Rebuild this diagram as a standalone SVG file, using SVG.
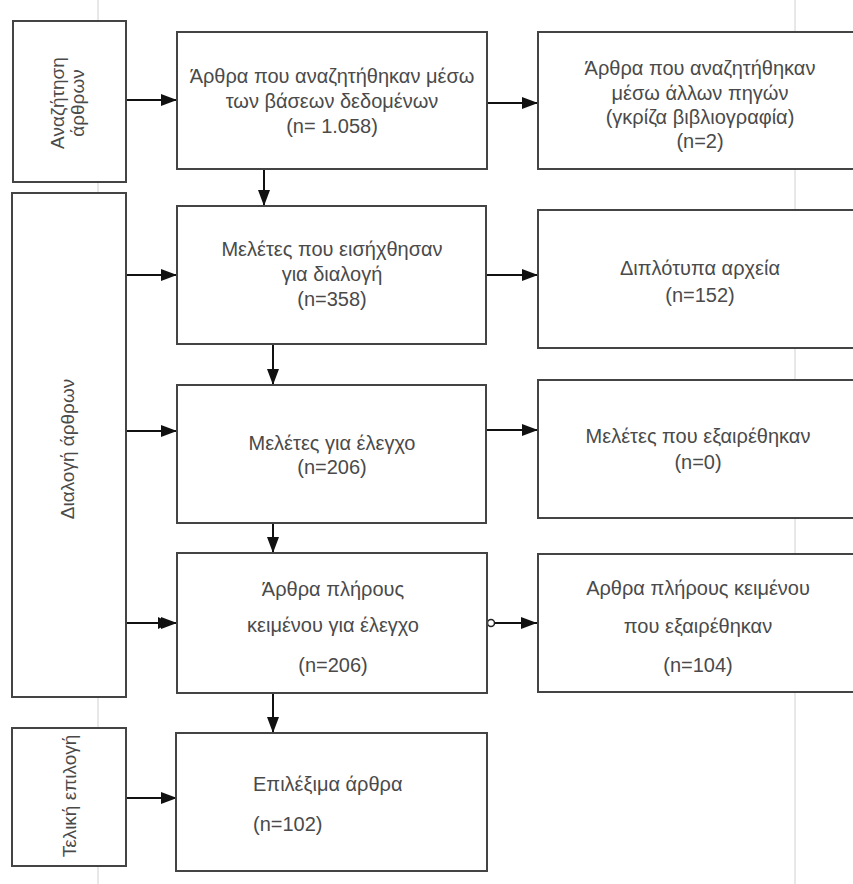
<svg xmlns="http://www.w3.org/2000/svg" width="853" height="884" viewBox="0 0 853 884">
<style>
.box{fill:#fff;stroke:#444;stroke-width:2}
.t{font-family:"Liberation Sans",Arial,sans-serif;font-size:20px;fill:#4a4a4a;text-anchor:middle}
.tr{font-family:"Liberation Sans",Arial,sans-serif;font-size:19px;fill:#4a4a4a;text-anchor:middle}
.tl{font-family:"Liberation Sans",Arial,sans-serif;font-size:20px;fill:#4a4a4a}
.c{stroke:#111;stroke-width:2;fill:none}
.bg{stroke:#d0d0d0;stroke-width:1}
</style>
<defs>
<marker id="arr" markerUnits="userSpaceOnUse" markerWidth="16" markerHeight="12" refX="16" refY="6" orient="auto">
<path d="M0,0 L16,6 L0,12 z" fill="#111"/>
</marker>
</defs>
<rect width="853" height="884" fill="#fff"/>
<g id="background">
<line class="bg" x1="98" y1="0" x2="98" y2="884"/>
<line class="bg" x1="795" y1="0" x2="795" y2="884"/>
</g>
<g id="connectors">
<line class="c" x1="126" y1="100" x2="177" y2="100" marker-end="url(#arr)"/>
<line class="c" x1="487" y1="103" x2="538" y2="103" marker-end="url(#arr)"/>
<line class="c" x1="264" y1="169" x2="264" y2="206" marker-end="url(#arr)"/>
<line class="c" x1="126" y1="275" x2="177" y2="275" marker-end="url(#arr)"/>
<line class="c" x1="486" y1="275" x2="538" y2="275" marker-end="url(#arr)"/>
<line class="c" x1="273" y1="344" x2="273" y2="385" marker-end="url(#arr)"/>
<line class="c" x1="126" y1="431" x2="177" y2="431" marker-end="url(#arr)"/>
<line class="c" x1="486" y1="430" x2="538" y2="430" marker-end="url(#arr)"/>
<line class="c" x1="273" y1="523" x2="273" y2="553" marker-end="url(#arr)"/>
<line class="c" x1="126" y1="623" x2="177" y2="623" marker-end="url(#arr)"/>
<path d="M158,617 L170,623 L158,629 z" fill="#111"/>
<circle cx="491" cy="623" r="3.5" fill="#fff" stroke="#222" stroke-width="1.5"/>
<line class="c" x1="495" y1="623" x2="537" y2="623" marker-end="url(#arr)"/>
<line class="c" x1="273" y1="693" x2="273" y2="733" marker-end="url(#arr)"/>
<line class="c" x1="126" y1="798" x2="177" y2="798" marker-end="url(#arr)"/>
</g>
<g id="L1">
<rect class="box" x="13" y="21" width="113" height="161"/>
<text class="tr" transform="translate(64,103) rotate(-90)">Αναζήτηση</text>
<text class="tr" transform="translate(84,103) rotate(-90)">άρθρων</text>
</g>
<g id="L2">
<rect class="box" x="12" y="193" width="114" height="504"/>
<text class="tr" transform="translate(74,449) rotate(-90)">Διαλογή άρθρων</text>
</g>
<g id="L3">
<rect class="box" x="12" y="728" width="114" height="138"/>
<text class="tr" transform="translate(76,796) rotate(-90)">Τελική επιλογή</text>
</g>
<g id="M1">
<rect class="box" x="177" y="32" width="310" height="137"/>
<text class="t" x="332" y="83">Άρθρα που αναζητήθηκαν μέσω</text>
<text class="t" x="332" y="108">των βάσεων δεδομένων</text>
<text class="t" x="332" y="133">(n= 1.058)</text>
</g>
<g id="R1">
<rect class="box" x="538" y="32" width="330" height="137"/>
<text class="t" x="700" y="75">Άρθρα που αναζητήθηκαν</text>
<text class="t" x="700" y="100">μέσω άλλων πηγών</text>
<text class="t" x="700" y="124">(γκρίζα βιβλιογραφία)</text>
<text class="t" x="700" y="148">(n=2)</text>
</g>
<g id="M2">
<rect class="box" x="177" y="206" width="309" height="138"/>
<text class="t" x="332" y="256">Μελέτες που εισήχθησαν</text>
<text class="t" x="332" y="281">για διαλογή</text>
<text class="t" x="332" y="306">(n=358)</text>
</g>
<g id="R2">
<rect class="box" x="538" y="210" width="330" height="138"/>
<text class="t" x="700" y="275">Διπλότυπα αρχεία</text>
<text class="t" x="700" y="302">(n=152)</text>
</g>
<g id="M3">
<rect class="box" x="177" y="385" width="309" height="138"/>
<text class="t" x="332" y="450">Μελέτες για έλεγχο</text>
<text class="t" x="332" y="474">(n=206)</text>
</g>
<g id="R3">
<rect class="box" x="538" y="380" width="330" height="138"/>
<text class="t" x="698" y="443">Μελέτες που εξαιρέθηκαν</text>
<text class="t" x="698" y="469">(n=0)</text>
</g>
<g id="M4">
<rect class="box" x="177" y="553" width="310" height="140"/>
<text class="t" x="333" y="596">Άρθρα πλήρους</text>
<text class="t" x="333" y="632">κειμένου για έλεγχο</text>
<text class="t" x="333" y="672">(n=206)</text>
</g>
<g id="R4">
<rect class="box" x="538" y="554" width="330" height="138"/>
<text class="t" x="698" y="595">Αρθρα πλήρους κειμένου</text>
<text class="t" x="698" y="633">που εξαιρέθηκαν</text>
<text class="t" x="698" y="672">(n=104)</text>
</g>
<g id="M5">
<rect class="box" x="176" y="733" width="311" height="138"/>
<text class="tl" x="253" y="791">Επιλέξιμα άρθρα</text>
<text class="tl" x="253" y="831">(n=102)</text>
</g>
</svg>
